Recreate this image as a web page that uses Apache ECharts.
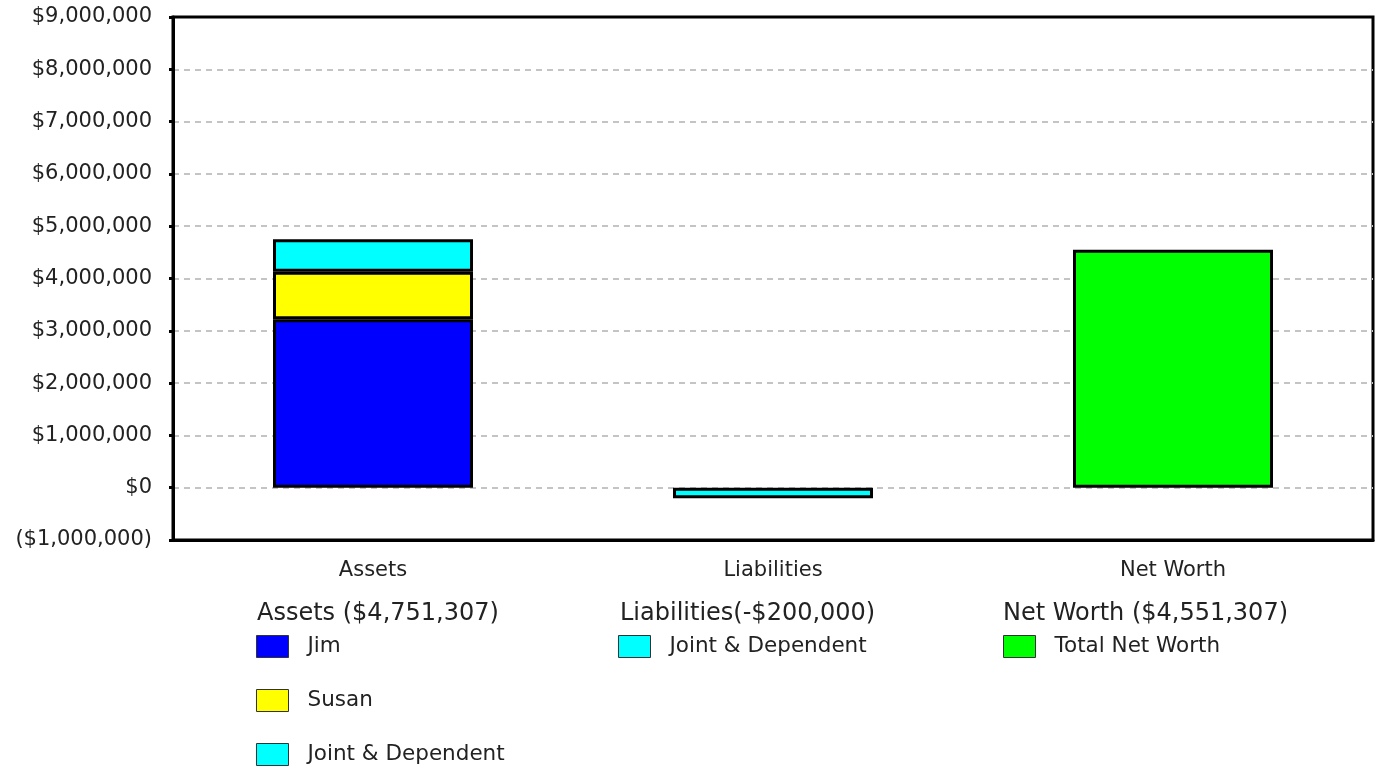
<!DOCTYPE html>
<html>
<head>
<meta charset="utf-8">
<script src="https://cdn.jsdelivr.net/npm/echarts@6/dist/echarts.min.js"></script>
<style>
html,body{margin:0;padding:0;background:#fff;}
#chart{width:1380px;height:772px;}
</style>
</head>
<body>
<div id="chart"></div>
<script>
// ---- data ----
const categories = ['Assets', 'Liabilities', 'Net Worth'];
const jimValues = [3220000, null, null];
const susanValues = [910000, null, null];
const assetsJointValues = [621307, null, null];
const liabilitiesJointValues = [null, -200000, null];
const netWorthValues = [null, null, 4551307];
const yMin = -1000000;
const yMax = 9000000;
const yInterval = 1000000;
const groupTitles = ['Assets ($4,751,307)', 'Liabilities(-$200,000)', 'Net Worth ($4,551,307)'];
const assetsLegend = ['Jim', 'Susan', 'Joint & Dependent'];
const liabilitiesLegend = ['Joint & Dependent'];
const netWorthLegend = ['Total Net Worth'];

const FONT = 'DejaVu Sans';
const TEXT = '#222';

function money(v) {
  const s = '$' + Math.abs(v).toString().replace(/\B(?=(\d{3})+(?!\d))/g, ',');
  return v < 0 ? '(' + s + ')' : s;
}

const barBorder = { borderColor: '#000', borderWidth: 3 };
const legendCommon = {
  orient: 'vertical',
  itemWidth: 32,
  itemHeight: 22,
  itemGap: 31,
  icon: 'rect',
  selectedMode: false,
  itemStyle: { borderColor: '#333', borderWidth: 1 },
  textStyle: { fontFamily: FONT, fontSize: 21.5, color: TEXT, padding: [0, 0, 0, 14] }
};
const titleStyle = { fontFamily: FONT, fontSize: 24, fontWeight: 'normal', color: TEXT };

const chart = echarts.init(document.getElementById('chart'));
chart.setOption({
  animation: false,
  backgroundColor: '#fff',
  title: [
    { text: groupTitles[0], left: 257, top: 602, padding: 0, textStyle: titleStyle },
    { text: groupTitles[1], left: 620, top: 602, padding: 0, textStyle: titleStyle },
    { text: groupTitles[2], left: 1003, top: 602, padding: 0, textStyle: titleStyle }
  ],
  legend: [
    Object.assign({}, legendCommon, { left: 256, top: 635, padding: 0, data: ['Jim', 'Susan', 'Joint & Dependent'],
      formatter: n => assetsLegend[['Jim', 'Susan', 'Joint & Dependent'].indexOf(n)] }),
    Object.assign({}, legendCommon, { left: 618, top: 635, padding: 0, data: ['Liabilities Joint & Dependent'],
      formatter: () => liabilitiesLegend[0] }),
    Object.assign({}, legendCommon, { left: 1003, top: 635, padding: 0, data: ['Total Net Worth'],
      formatter: () => netWorthLegend[0] })
  ],
  grid: {
    left: 173, right: 7, top: 17, bottom: 232,
    show: true, borderColor: '#000', borderWidth: 3, backgroundColor: 'transparent'
  },
  xAxis: {
    type: 'category',
    data: categories,
    axisLine: { show: true, onZero: false, lineStyle: { color: '#000', width: 3 } },
    axisTick: { show: false },
    axisLabel: { fontFamily: FONT, fontSize: 21, color: TEXT, margin: 20 },
    splitLine: { show: false }
  },
  yAxis: {
    type: 'value',
    min: yMin, max: yMax, interval: yInterval,
    axisLine: { show: true, lineStyle: { color: '#000', width: 3 } },
    axisTick: { show: true, length: 4, lineStyle: { color: '#000', width: 3 } },
    axisLabel: { fontFamily: FONT, fontSize: 21, color: TEXT, margin: 21, formatter: money },
    splitLine: { show: true, showMinLine: false, showMaxLine: false,
      lineStyle: { color: '#c4c4c4', width: 2, type: [6, 5] } }
  },
  series: [
    { name: 'Jim', type: 'bar', stack: 'all', barWidth: '50%', data: jimValues,
      itemStyle: Object.assign({ color: '#0000ff' }, barBorder) },
    { name: 'Susan', type: 'bar', stack: 'all', barWidth: '50%', data: susanValues,
      itemStyle: Object.assign({ color: '#ffff00' }, barBorder) },
    { name: 'Joint & Dependent', type: 'bar', stack: 'all', barWidth: '50%', data: assetsJointValues,
      itemStyle: Object.assign({ color: '#00ffff' }, barBorder) },
    { name: 'Liabilities Joint & Dependent', type: 'bar', stack: 'all', barWidth: '50%', data: liabilitiesJointValues,
      itemStyle: Object.assign({ color: '#00ffff' }, barBorder) },
    { name: 'Total Net Worth', type: 'bar', stack: 'all', barWidth: '50%', data: netWorthValues,
      itemStyle: Object.assign({ color: '#00ff00' }, barBorder) }
  ]
});
</script>
</body>
</html>
